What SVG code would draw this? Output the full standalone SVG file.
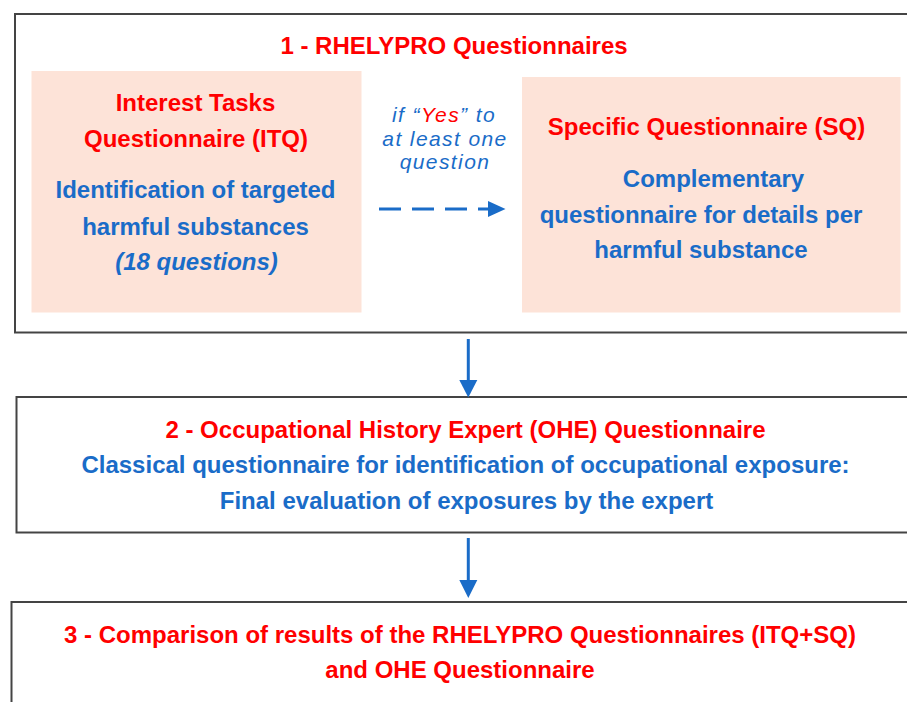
<svg xmlns="http://www.w3.org/2000/svg" width="907" height="702" viewBox="0 0 907 702">
<style>
.frame{fill:#ffffff;stroke:#444444;stroke-width:2}
.pink{fill:#fde3d8}
.t{font-family:"Liberation Sans",Arial,sans-serif;font-weight:bold;font-size:24px;text-anchor:middle}
.red{fill:#ff0000}
.blue{fill:#1a6cc8}
.mid{font-family:"Liberation Sans",Arial,sans-serif;font-style:italic;font-size:21px;letter-spacing:1.4px;text-anchor:middle;fill:#1a6cc8}
.conn{stroke:#1a6cc8;stroke-width:3;fill:none}
</style>
<rect x="0" y="0" width="907" height="702" fill="#ffffff"/>
<g id="box1">
<rect class="frame" x="15" y="14" width="900" height="318.5"/>
<text class="t red" x="454" y="54">1 - RHELYPRO Questionnaires</text>
</g>
<g id="itq">
<rect class="pink" x="31.5" y="71" width="330" height="241.5"/>
<text class="t red" x="195.5" y="111">Interest Tasks</text>
<text class="t red" x="196" y="147">Questionnaire (ITQ)</text>
<text class="t blue" x="195.5" y="198">Identification of targeted</text>
<text class="t blue" x="195.5" y="235">harmful substances</text>
<text class="t blue" x="196.5" y="270" font-style="italic">(18 questions)</text>
</g>
<g id="sq">
<rect class="pink" x="522" y="77" width="378.5" height="235.5"/>
<text class="t red" x="706.5" y="135">Specific Questionnaire (SQ)</text>
<text class="t blue" x="713.5" y="187">Complementary</text>
<text class="t blue" x="701" y="223">questionnaire for details per</text>
<text class="t blue" x="701" y="258">harmful substance</text>
</g>
<g id="box2">
<rect class="frame" x="16.5" y="397" width="900" height="135.5"/>
<text class="t red" x="465.5" y="438">2 - Occupational History Expert (OHE) Questionnaire</text>
<text class="t blue" x="465.5" y="473">Classical questionnaire for identification of occupational exposure:</text>
<text class="t blue" x="466.5" y="509">Final evaluation of exposures by the expert</text>
</g>
<g id="box3">
<rect class="frame" x="11.5" y="602" width="905" height="120"/>
<text class="t red" x="460" y="643">3 - Comparison of results of the RHELYPRO Questionnaires (ITQ+SQ)</text>
<text class="t red" x="460" y="678">and OHE Questionnaire</text>
</g>
<g id="connectors">
<text class="mid" x="444" y="122">if “<tspan fill="#ff0000">Yes</tspan>” to</text>
<text class="mid" x="445" y="145.5">at least one</text>
<text class="mid" x="445" y="169">question</text>
<line class="conn" x1="379" y1="209" x2="488" y2="209" stroke-dasharray="22,11"/>
<path d="M488,201 L505.5,209 L488,217 Z" fill="#1a6cc8"/>
<line class="conn" x1="468.3" y1="339" x2="468.3" y2="381"/>
<path d="M459.3,380 L477.3,380 L468.3,397.5 Z" fill="#1a6cc8"/>
<line class="conn" x1="468.3" y1="538" x2="468.3" y2="581"/>
<path d="M459.3,580 L477.3,580 L468.3,598 Z" fill="#1a6cc8"/>
</g>
</svg>
